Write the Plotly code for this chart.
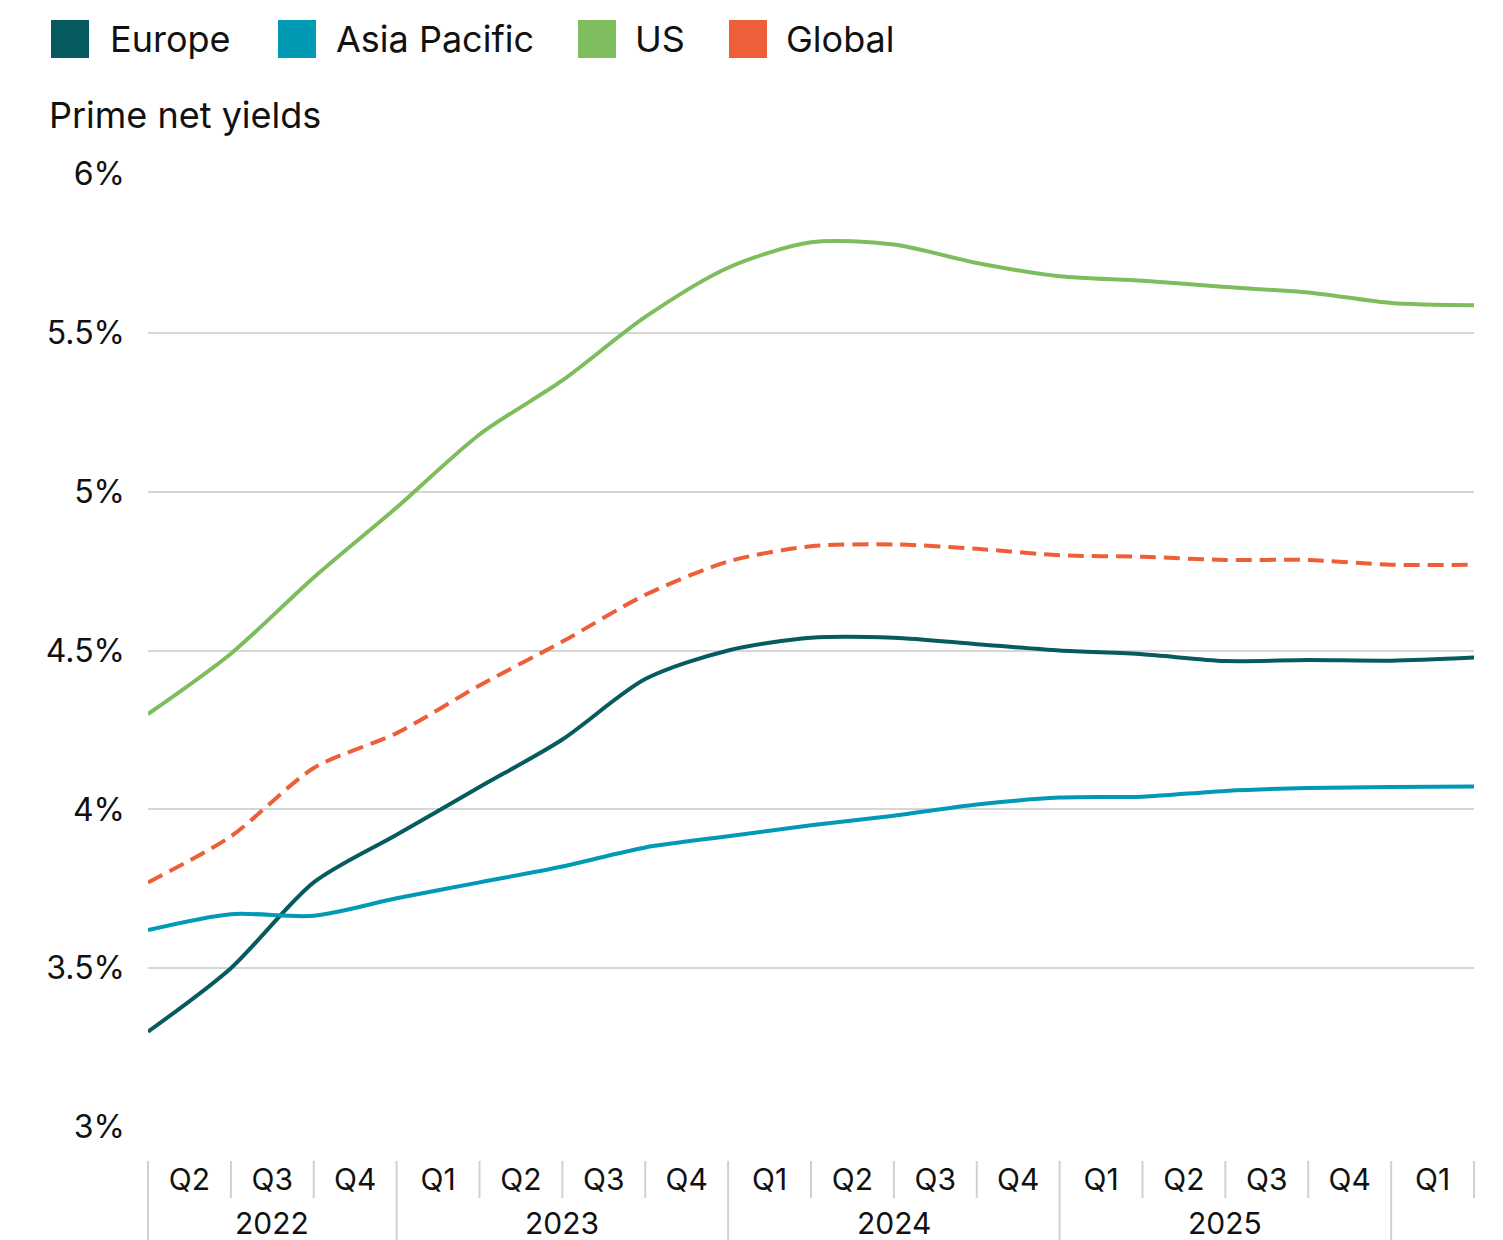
import plotly.graph_objects as go

# Quarter tick labels (one per quarter slot) and the year each group belongs to
quarter_labels = ["Q2", "Q3", "Q4",
                  "Q1", "Q2", "Q3", "Q4",
                  "Q1", "Q2", "Q3", "Q4",
                  "Q1", "Q2", "Q3", "Q4",
                  "Q1"]
year_labels = ["2022", "2023", "2024", "2025"]
quarters_per_year = [3, 4, 4, 4]

# Prime net yields (%), observed at each quarter boundary
europe = [3.30, 3.50, 3.77, 3.92, 4.07, 4.22, 4.41, 4.50, 4.54, 4.54,
          4.52, 4.50, 4.488, 4.467, 4.47, 4.468, 4.478]
asia_pacific = [3.62, 3.67, 3.665, 3.72, 3.77, 3.82, 3.88, 3.915, 3.95, 3.98,
                4.015, 4.037, 4.04, 4.058, 4.067, 4.07, 4.072]
us = [4.30, 4.49, 4.73, 4.95, 5.18, 5.35, 5.55, 5.705, 5.785, 5.778,
      5.72, 5.678, 5.664, 5.644, 5.627, 5.594, 5.587]
global_ = [3.77, 3.915, 4.13, 4.24, 4.39, 4.528, 4.675, 4.78, 4.828, 4.834,
           4.82, 4.80, 4.795, 4.785, 4.785, 4.77, 4.77]

series = [
    ("Europe", europe, "#065b5f", "solid"),
    ("Asia Pacific", asia_pacific, "#009ab5", "solid"),
    ("US", us, "#7dbd5e", "solid"),
    ("Global", global_, "#ee5e38", "16px,8px"),
]

W, H = 1503, 1240
ML, MR, MT, MB = 148, 29, 174, 113
FONT = "Inter, Roboto, 'DejaVu Sans', sans-serif"
TEXT = "#111111"
GRID = "#d6d6d6"

plot_w = W - ML - MR
plot_h = H - MT - MB


def px_x(p):
    """Page pixel column -> paper x."""
    return (p - ML) / plot_w


def px_y(p):
    """Page pixel row -> paper y."""
    return (H - MB - p) / plot_h


n_slots = len(quarter_labels)
xs = list(range(n_slots + 1))

fig = go.Figure()
for name, vals, color, dash in series:
    fig.add_trace(go.Scatter(
        x=xs, y=vals, name=name, mode="lines",
        line=dict(color=color, width=4, dash=dash, shape="spline", smoothing=0.8),
        showlegend=False, cliponaxis=False,
    ))

shapes = []
annotations = []

# Quarter separators: short ticks between quarters, long ones at year edges
year_edges = [0]
for q in quarters_per_year:
    year_edges.append(year_edges[-1] + q)
for i in range(n_slots + 1):
    long_line = i in year_edges
    shapes.append(dict(
        type="line", xref="x domain", yref="paper",
        x0=i / n_slots, x1=i / n_slots,
        y0=px_y(1161), y1=px_y(1240 if long_line else 1198),
        line=dict(color="#d0d0d0", width=2),
    ))

# Year labels centred under their quarters
for k, yl in enumerate(year_labels):
    mid = (year_edges[k] + year_edges[k + 1]) / 2
    annotations.append(dict(
        x=mid, xref="x", y=px_y(1222.5), yref="paper",
        text=yl, showarrow=False, xanchor="center", yanchor="middle",
        borderpad=0,
        font=dict(family=FONT, size=30, color=TEXT),
    ))

# Legend: colour squares with labels
legend_items = [("Europe", 51, 108), ("Asia Pacific", 278, 334),
                ("US", 578, 633), ("Global", 729, 784)]
for (name, sx, tx), (_, _, color, _) in zip(legend_items, series):
    shapes.append(dict(
        type="rect", xref="paper", yref="paper",
        x0=px_x(sx), x1=px_x(sx + 38), y0=px_y(58), y1=px_y(20),
        fillcolor=color, line=dict(width=0),
    ))
    annotations.append(dict(
        x=px_x(tx), xref="paper", y=px_y(39.5), yref="paper",
        text=name, showarrow=False, xanchor="left", yanchor="middle",
        font=dict(family=FONT, size=36, color=TEXT),
    ))

# Axis title above the plot
annotations.append(dict(
    x=px_x(47), xref="paper", y=px_y(115), yref="paper",
    text="Prime net yields", showarrow=False, xanchor="left", yanchor="middle",
    font=dict(family=FONT, size=36, color=TEXT),
))

fig.update_layout(
    width=W, height=H,
    margin=dict(l=ML, r=MR, t=MT, b=MB),
    paper_bgcolor="white", plot_bgcolor="white",
    font=dict(family=FONT, color=TEXT),
    shapes=shapes, annotations=annotations,
    xaxis=dict(
        range=[0, n_slots], showgrid=False, zeroline=False, showline=False,
        tickmode="array",
        tickvals=[i + 0.5 for i in range(n_slots)],
        ticktext=quarter_labels, ticks="",
        ticklabelstandoff=32,
        tickfont=dict(family=FONT, size=30, color=TEXT),
        fixedrange=True,
    ),
    yaxis=dict(
        range=[3, 6], dtick=0.5, tick0=3, ticksuffix="%",
        showgrid=True, gridcolor=GRID, gridwidth=2,
        zeroline=False, showline=False, ticks="",
        ticklabelstandoff=22,
        tickfont=dict(family=FONT, size=32, color=TEXT),
        fixedrange=True,
    ),
)

fig.write_html("out.html")
